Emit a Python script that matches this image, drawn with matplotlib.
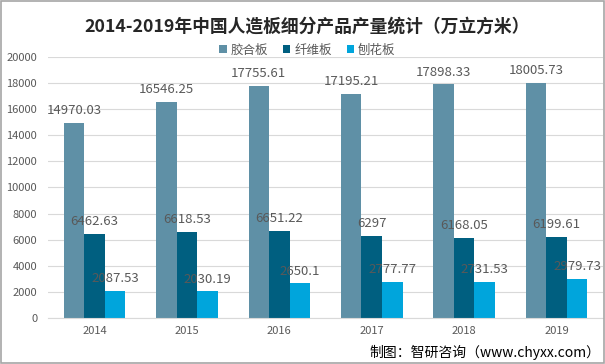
import matplotlib.pyplot as plt
import numpy as np
from matplotlib.patches import Rectangle

plt.rcParams['font.family'] = ['Noto Sans CJK SC', 'DejaVu Sans']

years = ['2014', '2015', '2016', '2017', '2018', '2019']
series_names = ['胶合板', '纤维板', '刨花板']
plywood = [14970.03, 16546.25, 17755.61, 17195.21, 17898.33, 18005.73]
fiberboard = [6462.63, 6618.53, 6651.22, 6297, 6168.05, 6199.61]
particleboard = [2087.53, 2030.19, 2650.1, 2777.77, 2731.53, 2979.73]
label_text = [
    ['14970.03', '16546.25', '17755.61', '17195.21', '17898.33', '18005.73'],
    ['6462.63', '6618.53', '6651.22', '6297', '6168.05', '6199.61'],
    ['2087.53', '2030.19', '2650.1', '2777.77', '2731.53', '2979.73'],
]
colors = ['#5F90A6', '#005F80', '#00A5DC']

fig = plt.figure(figsize=(6.05, 3.64), dpi=100)
ax = fig.add_axes([0.0798, 0.1264, 0.9165, 0.717])

x = np.arange(len(years))
w = 0.222
for i, vals in enumerate([plywood, fiberboard, particleboard]):
    pos = x + (i - 1) * w
    ax.bar(pos, vals, width=w, color=colors[i], label=series_names[i], zorder=2)
    for xp, v, t in zip(pos, vals, label_text[i]):
        ax.text(xp, v + 450, t, ha='center', va='bottom', fontsize=9.5,
                color='#595959', zorder=3)

ax.set_xlim(-0.5, len(years) - 0.5)
ax.set_ylim(0, 20000)
ax.set_yticks(np.arange(0, 20001, 2000))
ax.set_xticks(x)
ax.set_xticklabels(years)
ax.tick_params(axis='both', length=0, labelsize=8, colors='#595959')
ax.tick_params(axis='y', pad=8)
ax.tick_params(axis='x', pad=6)
ax.grid(axis='y', color='#D9D9D9', linewidth=0.8, zorder=0)
for s in ['left', 'right', 'top']:
    ax.spines[s].set_visible(False)
ax.spines['bottom'].set_color('#D9D9D9')

fig.text(0.508, 0.926, '2014-2019年中国人造板细分产品产量统计（万立方米）',
         ha='center', va='center', fontsize=12.8, fontweight='bold',
         color='#262626')

leg = fig.legend(loc='center', bbox_to_anchor=(0.508, 0.862), ncol=3,
                 frameon=False, fontsize=9, handlelength=0.6, handleheight=0.6,
                 handletextpad=0.3, columnspacing=1.2)
for t in leg.get_texts():
    t.set_color('#595959')

fig.text(0.993, 0.032, '制图：智研咨询（www.chyxx.com）', ha='right',
         va='center', fontsize=10, color='#000000')

fig.patches.append(Rectangle((0.001, 0.002), 0.997, 0.995, transform=fig.transFigure,
                             fill=False, edgecolor='#A6A6A6', linewidth=1.2))

fig.savefig('out.png', dpi=100)
